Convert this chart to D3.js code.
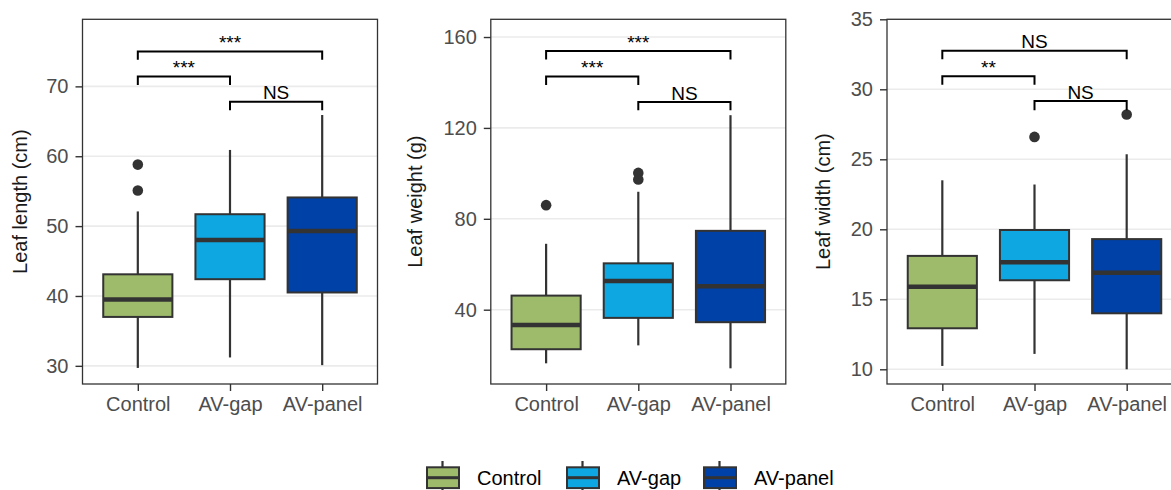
<!DOCTYPE html>
<html>
<head>
<meta charset="utf-8">
<script src="https://cdn.jsdelivr.net/npm/d3@7"></script>
<style>
  body { margin: 0; background: #fff; overflow: hidden; }
  svg text { font-family: "Liberation Sans", Arial, sans-serif; }
</style>
</head>
<body>
<div id="chart"></div>
<script>
// groups and colours
const categories = ['Control', 'AV-gap', 'AV-panel'];
const groupColors = ['#9eba6b', '#0ea7e1', '#0041a8'];

// box stats per group: [lower whisker, Q1, median, Q3, upper whisker]
const lengthStats = [[29.7, 37.0, 39.5, 43.1, 52.1], [31.2, 42.4, 48.0, 51.7, 60.9], [30.1, 40.5, 49.3, 54.1, 65.9]];
const lengthOutliers = [[58.8, 55.1], [], []];
const lengthTicks = [30, 40, 50, 60, 70];

const weightStats = [[16.4, 22.6, 33.3, 46.2, 69.0], [24.3, 36.4, 52.6, 60.4, 91.9], [14.2, 34.5, 50.3, 74.7, 125.6]];
const weightOutliers = [[86.0], [100.2, 97.3], []];
const weightTicks = [40, 80, 120, 160];

const widthStats = [[10.24, 12.93, 15.9, 18.1, 23.5], [11.1, 16.36, 17.64, 19.95, 23.2], [10.0, 14.0, 16.9, 19.3, 25.36]];
const widthOutliers = [[], [26.6], [28.2]];
const widthTicks = [10, 15, 20, 25, 30, 35];

// significance brackets: [from, to, bar y, tip y, label]
const lengthSig = [[0, 2, 75.0, 73.8, '***'], [0, 1, 71.4, 70.2, '***'], [1, 2, 67.8, 66.6, 'NS']];
const weightSig = [[0, 2, 153.8, 150.1, '***'], [0, 1, 142.6, 138.9, '***'], [1, 2, 131.4, 127.8, 'NS']];
const widthSig = [[0, 2, 32.76, 32.14, 'NS'], [0, 1, 30.93, 30.33, '**'], [1, 2, 29.16, 28.5, 'NS']];

const W = 1171, H = 490;
const svg = d3.select('#chart').append('svg')
    .attr('width', W)
    .attr('height', H);

const panelTop = 19.3, panelBottom = 384, panelW = 295;

function drawPanel(p) {
    const g = svg.append('g');

    // discrete axis with ggplot's 0.6 expansion on each side
    const x = d3.scalePoint()
        .domain(categories)
        .range([p.left, p.left + panelW])
        .padding(0.6);
    const cx = i => x(categories[i]);
    const step = x.step();

    const y = d3.scaleLinear()
        .domain(p.domain)
        .range([panelBottom, panelTop]);

    // grid
    g.selectAll('.grid')
        .data(p.ticks)
        .enter()
        .append('line')
        .attr('x1', p.left)
        .attr('x2', p.left + panelW)
        .attr('y1', d => y(d))
        .attr('y2', d => y(d))
        .attr('stroke', '#ebebeb')
        .attr('stroke-width', 1.6);

    // y axis
    const yAxis = g.append('g')
        .attr('transform', `translate(${p.left},0)`)
        .call(d3.axisLeft(y).tickValues(p.ticks).tickSize(7).tickPadding(7));
    yAxis.select('.domain').remove();
    yAxis.selectAll('line').attr('stroke', '#333').attr('stroke-width', 1.4);
    yAxis.selectAll('text').attr('fill', '#4d4d4d').style('font-size', '20px');

    // x axis
    const xAxis = g.append('g')
        .attr('transform', `translate(0,${panelBottom})`)
        .call(d3.axisBottom(x).tickSize(7).tickPadding(6));
    xAxis.select('.domain').remove();
    xAxis.selectAll('line').attr('stroke', '#333').attr('stroke-width', 1.4);
    xAxis.selectAll('text').attr('fill', '#4d4d4d').style('font-size', '20px');

    const bw = step * 0.75;
    const boxes = g.selectAll('.box')
        .data(p.stats)
        .enter()
        .append('g');

    boxes.append('line')
        .attr('x1', (d, i) => cx(i)).attr('x2', (d, i) => cx(i))
        .attr('y1', d => y(d[0])).attr('y2', d => y(d[4]))
        .attr('stroke', '#333').attr('stroke-width', 2.2);

    boxes.append('rect')
        .attr('x', (d, i) => cx(i) - bw / 2)
        .attr('width', bw)
        .attr('y', d => y(d[3]))
        .attr('height', d => y(d[1]) - y(d[3]))
        .attr('fill', (d, i) => groupColors[i])
        .attr('stroke', '#333').attr('stroke-width', 2);

    boxes.append('line')
        .attr('x1', (d, i) => cx(i) - bw / 2).attr('x2', (d, i) => cx(i) + bw / 2)
        .attr('y1', d => y(d[2])).attr('y2', d => y(d[2]))
        .attr('stroke', '#333').attr('stroke-width', 4.5);

    p.outliers.forEach((list, i) => {
        g.selectAll(null)
            .data(list)
            .enter()
            .append('circle')
            .attr('cx', cx(i))
            .attr('cy', d => y(d))
            .attr('r', 5.3)
            .attr('fill', '#333');
    });

    // significance brackets
    const sig = g.selectAll('.sig')
        .data(p.sig)
        .enter()
        .append('g');
    sig.append('path')
        .attr('d', d => `M${cx(d[0])},${y(d[3])}V${y(d[2])}H${cx(d[1])}V${y(d[3])}`)
        .attr('fill', 'none')
        .attr('stroke', '#000')
        .attr('stroke-width', 2);
    sig.append('text')
        .attr('x', d => (cx(d[0]) + cx(d[1])) / 2)
        .attr('y', d => y(d[2]) - 2.5)
        .attr('text-anchor', 'middle')
        .style('font-size', '19px')
        .attr('fill', '#000')
        .text(d => d[4]);

    // panel border
    g.append('rect')
        .attr('x', p.left).attr('y', panelTop)
        .attr('width', panelW).attr('height', panelBottom - panelTop)
        .attr('fill', 'none')
        .attr('stroke', '#333').attr('stroke-width', 1.3);

    // axis title
    g.append('text')
        .attr('transform', `translate(${p.titleX},${(panelTop + panelBottom) / 2}) rotate(-90)`)
        .attr('text-anchor', 'middle')
        .style('font-size', '20px')
        .attr('fill', '#1a1a1a')
        .text(p.title);
}

drawPanel({ left: 82.5, domain: [27.4, 79.6], ticks: lengthTicks, stats: lengthStats,
    outliers: lengthOutliers, sig: lengthSig, title: 'Leaf length (cm)', titleX: 26.5 });
drawPanel({ left: 490.8, domain: [7.3, 167.8], ticks: weightTicks, stats: weightStats,
    outliers: weightOutliers, sig: weightSig, title: 'Leaf weight (g)', titleX: 421.5 });
drawPanel({ left: 887, domain: [8.95, 35], ticks: widthTicks, stats: widthStats,
    outliers: widthOutliers, sig: widthSig, title: 'Leaf width (cm)', titleX: 829.5 });

// legend
const legendX = [426, 566, 703];
const legend = svg.selectAll('.legend')
    .data(categories)
    .enter()
    .append('g')
    .attr('transform', (d, i) => `translate(${legendX[i]},0)`);
legend.append('line')
    .attr('x1', 16.5).attr('x2', 16.5).attr('y1', 461).attr('y2', 495)
    .attr('stroke', '#333').attr('stroke-width', 2.2);
legend.append('rect')
    .attr('x', 1).attr('y', 467.3).attr('width', 32).attr('height', 20.8)
    .attr('fill', (d, i) => groupColors[i])
    .attr('stroke', '#333').attr('stroke-width', 2);
legend.append('line')
    .attr('x1', 1).attr('x2', 33).attr('y1', 477.7).attr('y2', 477.7)
    .attr('stroke', '#333').attr('stroke-width', 3);
legend.append('text')
    .attr('x', 51).attr('y', 485)
    .style('font-size', '20px')
    .attr('fill', '#000')
    .text(d => d);
</script>
</body>
</html>
